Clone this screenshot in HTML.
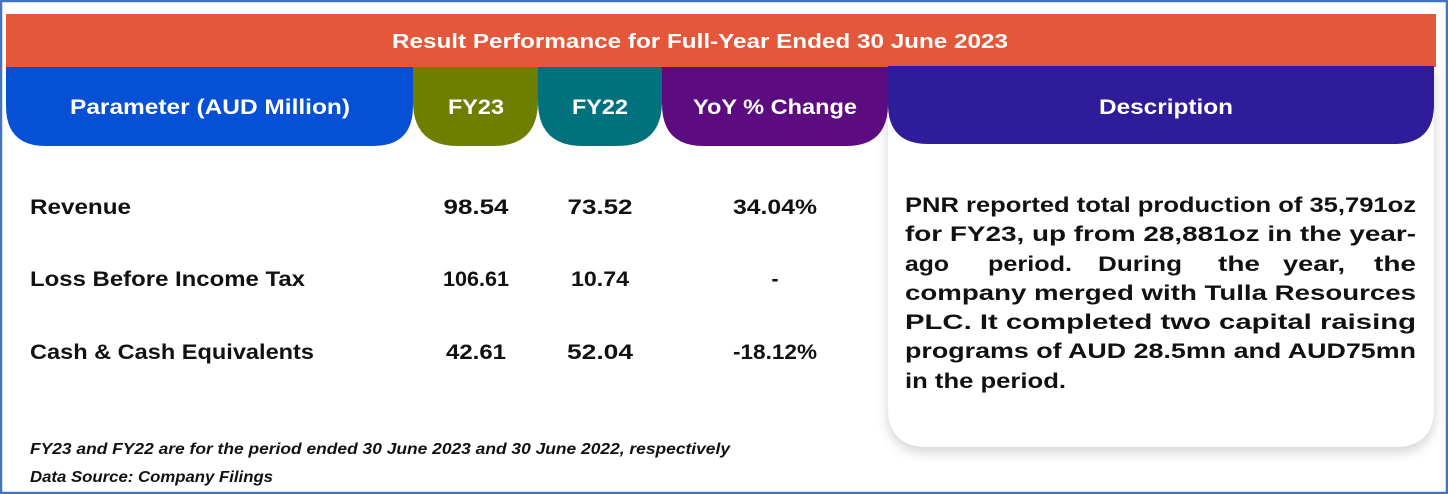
<!DOCTYPE html>
<html><head><meta charset="utf-8"><style>
html,body{margin:0;padding:0;background:#fff;}
svg{display:block;font-family:"Liberation Sans",sans-serif;}
</style></head><body>
<svg width="1448" height="494" viewBox="0 0 1448 494">
<defs>
<filter id="sh" x="-10%" y="-10%" width="120%" height="130%">
<feDropShadow dx="0" dy="5" stdDeviation="6" flood-color="#000" flood-opacity="0.18"/>
</filter>
</defs>
<rect x="1" y="1" width="1446" height="492" fill="#fff" stroke="#4472C4" stroke-width="2.5"/>
<path d="M888 66 H1434 V407 Q1434 447 1394 447 H928 Q888 447 888 407 Z" fill="#fff" filter="url(#sh)"/>
<rect x="6" y="14" width="1430" height="53" fill="#E5573A"/>
<text x="700" y="48" text-anchor="middle" fill="#fff" font-weight="bold" font-size="20" textLength="616" lengthAdjust="spacingAndGlyphs">Result Performance for Full-Year Ended 30 June 2023</text>
<g font-weight="bold" font-size="21" fill="#fff" text-anchor="middle">
<path d="M6 67 H413 V106 Q413 146 373 146 H46 Q6 146 6 106 Z" fill="#0550D4"/>
<text x="210" y="114" textLength="280" lengthAdjust="spacingAndGlyphs">Parameter (AUD Million)</text>
<path d="M413 67 H538 V101 Q538 146 493 146 H458 Q413 146 413 101 Z" fill="#6E7F00"/>
<text x="476" y="114" textLength="56" lengthAdjust="spacingAndGlyphs">FY23</text>
<path d="M538 67 H662 V101 Q662 146 617 146 H583 Q538 146 538 101 Z" fill="#00727E"/>
<text x="600" y="114" textLength="56" lengthAdjust="spacingAndGlyphs">FY22</text>
<path d="M662 67 H888 V104 Q888 146 846 146 H704 Q662 146 662 104 Z" fill="#5C0B80"/>
<text x="775" y="114" textLength="164" lengthAdjust="spacingAndGlyphs">YoY % Change</text>
<path d="M888 66 H1434 V104 Q1434 144 1394 144 H928 Q888 144 888 104 Z" fill="#2E1C9A"/>
<text x="1166" y="114" textLength="134" lengthAdjust="spacingAndGlyphs">Description</text>
</g>
<g font-weight="bold" font-size="21" fill="#111">
<text x="30" y="214" textLength="101" lengthAdjust="spacingAndGlyphs">Revenue</text>
<text x="476" y="214" text-anchor="middle" textLength="65" lengthAdjust="spacingAndGlyphs">98.54</text>
<text x="600" y="214" text-anchor="middle" textLength="65" lengthAdjust="spacingAndGlyphs">73.52</text>
<text x="775" y="214" text-anchor="middle" textLength="84" lengthAdjust="spacingAndGlyphs">34.04%</text>
<text x="30" y="286" textLength="275" lengthAdjust="spacingAndGlyphs">Loss Before Income Tax</text>
<text x="476" y="286" text-anchor="middle" textLength="66" lengthAdjust="spacingAndGlyphs">106.61</text>
<text x="600" y="286" text-anchor="middle" textLength="58" lengthAdjust="spacingAndGlyphs">10.74</text>
<text x="775" y="286" text-anchor="middle">-</text>
<text x="30" y="359" textLength="284" lengthAdjust="spacingAndGlyphs">Cash &amp; Cash Equivalents</text>
<text x="476" y="359" text-anchor="middle" textLength="60" lengthAdjust="spacingAndGlyphs">42.61</text>
<text x="600" y="359" text-anchor="middle" textLength="66" lengthAdjust="spacingAndGlyphs">52.04</text>
<text x="775" y="359" text-anchor="middle" textLength="84" lengthAdjust="spacingAndGlyphs">-18.12%</text>
</g>
<g font-weight="bold" font-size="21" fill="#111">
<text x="905" y="212" textLength="511" lengthAdjust="spacingAndGlyphs">PNR reported total production of 35,791oz</text>
<text x="905" y="241" textLength="511" lengthAdjust="spacingAndGlyphs">for FY23, up from 28,881oz in the year-</text>
<text x="905" y="271" textLength="44" lengthAdjust="spacingAndGlyphs">ago</text>
<text x="988" y="271" textLength="84" lengthAdjust="spacingAndGlyphs">period.</text>
<text x="1098" y="271" textLength="84" lengthAdjust="spacingAndGlyphs">During</text>
<text x="1218" y="271" textLength="42" lengthAdjust="spacingAndGlyphs">the</text>
<text x="1283" y="271" textLength="62" lengthAdjust="spacingAndGlyphs">year,</text>
<text x="1374" y="271" textLength="42" lengthAdjust="spacingAndGlyphs">the</text>
<text x="905" y="300" textLength="511" lengthAdjust="spacingAndGlyphs">company merged with Tulla Resources</text>
<text x="905" y="329" textLength="511" lengthAdjust="spacingAndGlyphs">PLC. It completed two capital raising</text>
<text x="905" y="358" textLength="511" lengthAdjust="spacingAndGlyphs">programs of AUD 28.5mn and AUD75mn</text>
<text x="905" y="388" textLength="161" lengthAdjust="spacingAndGlyphs">in the period.</text>
</g>
<g font-weight="bold" font-style="italic" font-size="16" fill="#111">
<text x="30" y="454" textLength="700" lengthAdjust="spacingAndGlyphs">FY23 and FY22 are for the period ended 30 June 2023 and 30 June 2022, respectively</text>
<text x="30" y="482" textLength="243" lengthAdjust="spacingAndGlyphs">Data Source: Company Filings</text>
</g>
</svg>
</body></html>
